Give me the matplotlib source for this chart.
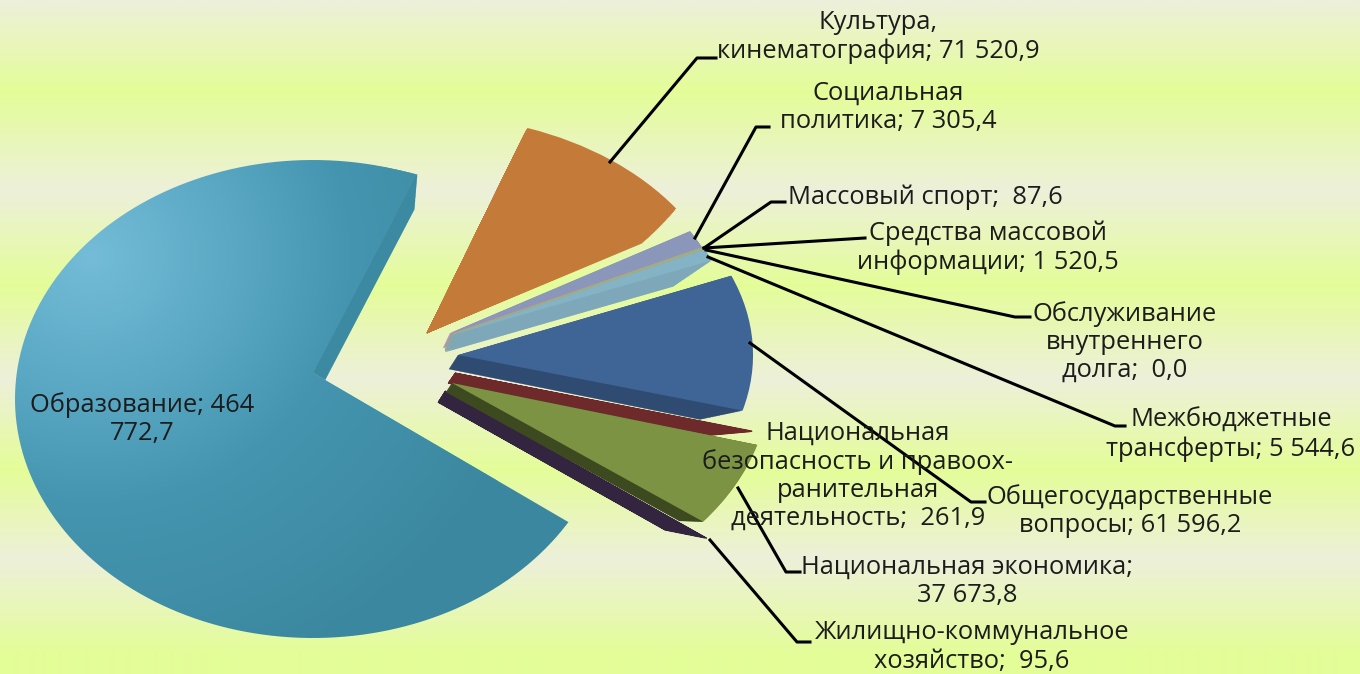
import numpy as np
import matplotlib
matplotlib.use('Agg')
import matplotlib.pyplot as plt
from matplotlib.colors import LinearSegmentedColormap
from matplotlib.patches import Wedge
from matplotlib.path import Path

plt.rcParams['font.family'] = ['Open Sans', 'DejaVu Sans']

# budget items, in the order the pie runs counter-clockwise
names = ['Образование', 'Жилищно-коммунальное', 'Национальная экономика', 'Национальная безопасность',
         'Общегосударственные', 'Межбюджетные', 'Обслуживание долга', 'Средства массовой',
         'Массовый спорт', 'Социальная', 'Культура']
values = [464772.7, 95.6, 37673.8, 261.9, 61596.2, 5544.6, 0.0, 1520.5, 87.6, 7305.4, 71520.9]
labels = ['Образование; 464\n772,7',
          'Жилищно-коммунальное\nхозяйство;  95,6',
          'Национальная экономика;\n37 673,8',
          'Национальная\nбезопасность и правоох-\nранительная\nдеятельность;  261,9',
          'Общегосударственные\nвопросы; 61 596,2',
          'Межбюджетные\nтрансферты; 5 544,6',
          'Обслуживание\nвнутреннего\nдолга;  0,0',
          'Средства массовой\nинформации; 1 520,5',
          'Массовый спорт;  87,6',
          'Социальная\nполитика; 7 305,4',
          'Культура,\nкинематография; 71 520,9']

top_colors = ['#4a9ab5', '#33243f', '#7c9344', '#6e2a2a', '#3e6596', '#85b3c6',
              '#85b3c6', '#a0ae80', '#b09aa8', '#8a97bb', '#c47a38']
side_colors = ['#3c8aa2', '#33243f', '#3d4a20', '#6e2a2a', '#2f4b72', '#7ea8ba',
               '#7ea8ba', '#a0ae80', '#b09aa8', '#a58fb0', '#c47a38']

# look of each slice, pixels of the picture: apex, radius, turn of both cuts
apex = [(313, 373), (445, 391), (452, 383), (455, 373), (458, 355), (452, 335),
        (452, 335), (453, 334), (453, 334), (450, 333), (427, 333)]
radius = [1, 1.117, 1.065, 1.033, 0.99, 0.94, 0.94, 0.94, 0.94, 0.937, 1.02]
turn = [(0, -6), (-5, -5), (-4.5, -3.5), (-3.1, -3.1), (-3.1, 0.2), (0, 0.4),
        (0, 0), (0, 0), (0, 0), (-0.4, 0.8), (5, 1.2)]
# under side of each slice: shift of apex, radius factor, turn of lower cut
under = [(12, 7, 0.857, 0), (-7, 11, 0.87, 0), (-6, 9, 0.93, 0), (-7, 10, 0.89, 0),
         (-9, 14, 0.885, -0.4), (-7, 17, 0.88, 0), (0, 0, 1, 0), (-8, 16, 1, 0),
         (-8, 16, 1, 0), (-7, 15, 0.99, 0), (0, 0, 0.82, -4.6)]
draw_order = [0, 10, 9, 8, 7, 5, 4, 3, 1, 2]

cx, cy, rx, ry = 313, 373, 298, 213
# the big slice's outer rim is taller than the others and sits a bit lower
rim_cy, rim_ry = 399, 239


def unit(px, py):
    return (px - cx) / rx, (cy - py) / ry


def rim_angle(theta):
    # where a cut leaving the apex of the big slice meets its rim
    d = np.array([np.cos(np.radians(theta)), np.sin(np.radians(theta)) * ry / rim_ry])
    p = np.array([0, (rim_cy - cy) / rim_ry])
    b = p.dot(d)
    s = (-b + np.sqrt(b * b - d.dot(d) * (p.dot(p) - 1))) / d.dot(d)
    q = p + s * d
    return np.arctan2(q[1], q[0])


def rim_points(arc):
    return np.column_stack([np.cos(arc), (cy - rim_cy) / ry + np.sin(arc) * rim_ry / ry])


fig = plt.figure(figsize=(13.6, 6.74), dpi=100)
ax = fig.add_axes([0, 0, 1, 1])

wedges, _ = ax.pie(values, colors=top_colors, startangle=69.5,
                   wedgeprops={'linewidth': 0})
ax.set_aspect('auto')
ax.set_xlim(*[unit(p, 0)[0] for p in (0, 1360)])
ax.set_ylim(unit(0, 674)[1], unit(0, 0)[1])
ax.axis('off')

# striped background
bg_stops = [0, 90, 190, 285, 380, 470, 560, 655, 674]
pale, bright = '#edf0da', '#e4fd98'
bg_colors = [pale, bright] * 4 + [bright]
bg_map = LinearSegmentedColormap.from_list(
    'bg', [(s / 674, c) for s, c in zip(bg_stops, bg_colors)])
x0, x1 = ax.get_xlim()
y0, y1 = ax.get_ylim()
ax.imshow(np.linspace(0, 1, 674).reshape(-1, 1), cmap=bg_map, aspect='auto',
          extent=(x0, x1, y0, y1), origin='upper', zorder=0)

z = 1
layers = 28
for i in draw_order:
    w = wedges[i]
    t1 = w.theta1 + turn[i][0]
    t2 = w.theta2 + turn[i][1]
    ax_, ay_ = apex[i]
    du = under[i]
    edge = 0.9 if values[i] < 2000 else 0.3
    # the big slice only shows its under side along the upper cut
    wall_end = t1 + 20 if i == 0 else t2
    for k in range(layers, 0, -1):
        s = k / layers
        f = Wedge(unit(ax_ + du[0] * s, ay_ + du[1] * s),
                  radius[i] * (1 + (du[2] - 1) * s),
                  t1 + du[3] * s, wall_end,
                  fc=side_colors[i], ec=side_colors[i], lw=edge, zorder=z)
        ax.add_patch(f)
    z += 1
    w.set_center(unit(ax_, ay_))
    w.set_radius(0.8 if i == 0 else radius[i])
    w.set_theta1(t1)
    w.set_theta2(t2)
    w.set_zorder(z)
    if values[i] < 2000:
        w.set_edgecolor(top_colors[i])
        w.set_linewidth(0.7)
    z += 1

# shading of the big slice, cut to its taller outline
a1 = rim_angle(wedges[0].theta1)
a2 = rim_angle(wedges[0].theta2)
if a2 < a1:
    a2 += 2 * np.pi
outline = rim_points(np.linspace(a1, a2, 300))
outline = np.vstack([outline, [0, 0], outline[0]])

yy, xx = np.mgrid[0:337, 0:680]
light = np.clip(np.hypot(xx * 2 - 90, (yy * 2 - 255) * 1.05) / 470, 0, 1)
shade = LinearSegmentedColormap.from_list(
    'shade', [(0, '#74bcd7'), (0.3, '#5aa8c4'), (0.55, '#4595b0'), (1, '#3b879f')])
im = ax.imshow(light, cmap=shade, aspect='auto', extent=(x0, x1, y0, y1),
               origin='upper', zorder=wedges[0].get_zorder() + 0.5)
im.set_clip_path(Path(outline), transform=ax.transData)
ax.set_xlim(x0, x1)
ax.set_ylim(y0, y1)

# labels and leaders work in picture pixels
top = fig.add_axes([0, 0, 1, 1], facecolor='none')
top.set_xlim(0, 1360)
top.set_ylim(674, 0)
top.axis('off')

label_at = [(142, 419), (972, 647), (967, 581), (858, 476), (1130, 511), (1231, 435),
            (1125, 342), (988, 248), (925, 197), (888, 107), (878, 37)]
leaders = [[(710, 540), (797, 642), (810, 642)],
           [(738, 488), (786, 572), (800, 572)],
           [(750, 343), (971, 502), (985, 502)],
           [(708, 257), (1115, 426), (1125, 426)],
           [(706, 250), (1015, 317), (1030, 317)],
           [(704, 248), (865, 238)],
           [(704, 248), (771, 202), (785, 202)],
           [(695, 238), (756, 127), (769, 127)],
           [(610, 162), (697, 58), (716, 58)]]
for line in leaders:
    top.plot([p[0] for p in line], [p[1] for p in line], color='black', lw=2.2,
             solid_joinstyle='round', zorder=3)
for text, (tx, ty) in zip(labels, label_at):
    top.text(tx, ty, text, ha='center', va='center', ma='center', fontsize=18.4,
             color='#1c1c1c', linespacing=1.16, zorder=4)

fig.savefig('out.png', dpi=100)
